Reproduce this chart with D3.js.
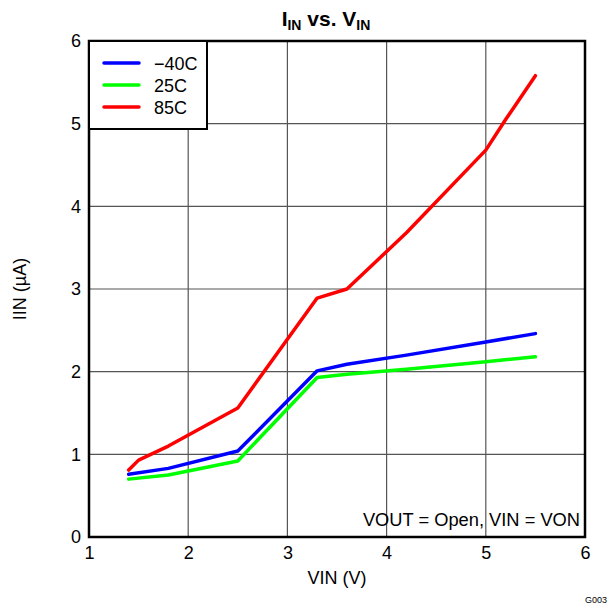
<!DOCTYPE html>
<meta charset="utf-8">
<style>
  body { margin: 0; background: #fff; }
  text { font-family: "Liberation Sans", Arial, sans-serif; }
</style>
<body>
<div id="chart"></div>
<script src="https://d3js.org/d3.v7.min.js"></script>
<script>

// Data
var vinM40 = [1.4, 1.8, 2.5, 3.3, 3.6, 4.2, 5.0, 5.5];
var iinM40 = [0.76, 0.83, 1.04, 2.01, 2.09, 2.20, 2.36, 2.46];
var vin25 = [1.4, 1.8, 2.5, 3.3, 3.6, 4.2, 5.0, 5.5];
var iin25 = [0.70, 0.75, 0.92, 1.93, 1.97, 2.03, 2.12, 2.18];
var vin85 = [1.4, 1.5, 1.8, 2.5, 3.3, 3.6, 4.2, 5.0, 5.2, 5.5];
var iin85 = [0.81, 0.93, 1.10, 1.56, 2.89, 3.00, 3.68, 4.68, 5.05, 5.58];
var seriesNames = ["\u221240C", "25C", "85C"];
var seriesColors = ["#0000ff", "#00ff00", "#ff0000"];
var xTicks = [1, 2, 3, 4, 5, 6];
var yTicks = [0, 1, 2, 3, 4, 5, 6];

var margin = {top: 41, right: 24, bottom: 71, left: 89},
    width = 609 - margin.left - margin.right,
    height = 496;

var svg = d3.select("#chart").append("svg")
    .attr("width", 609)
    .attr("height", 608);

var g = svg.append("g")
    .attr("transform", "translate(" + margin.left + "," + margin.top + ")");

var x = d3.scaleLinear().domain([1, 6]).range([0, width]);
var y = d3.scaleLinear().domain([0, 6]).range([height, 0]);

// grid
g.selectAll(".vgrid")
  .data(xTicks.slice(1, -1))
  .enter().append("line")
    .attr("x1", function(d) { return x(d); })
    .attr("x2", function(d) { return x(d); })
    .attr("y1", 0).attr("y2", height)
    .attr("stroke", "#555").attr("stroke-width", 1.2);

g.selectAll(".hgrid")
  .data(yTicks.slice(1, -1))
  .enter().append("line")
    .attr("y1", function(d) { return y(d); })
    .attr("y2", function(d) { return y(d); })
    .attr("x1", 0).attr("x2", width)
    .attr("stroke", "#555").attr("stroke-width", 1.2);

// axes labels (no tick lines)
var xAxis = g.append("g")
    .attr("transform", "translate(0," + height + ")")
    .call(d3.axisBottom(x).tickValues(xTicks).tickSize(0).tickPadding(9).tickFormat(d3.format("d")));
var yAxis = g.append("g")
    .call(d3.axisLeft(y).tickValues(yTicks).tickSize(0).tickPadding(8).tickFormat(d3.format("d")));
[xAxis, yAxis].forEach(function(a) {
  a.select(".domain").remove();
  a.selectAll("text").style("font-size", "18px").attr("fill", "#000")
    .style("font-family", "'Liberation Sans', Arial, sans-serif");
});

// lines
var line = d3.line()
    .x(function(d) { return x(d[0]); })
    .y(function(d) { return y(d[1]); });

var series = [
  d3.zip(vinM40, iinM40),
  d3.zip(vin25, iin25),
  d3.zip(vin85, iin85)
];

// draw green first, then blue, red on top
[1, 0, 2].forEach(function(i) {
  g.append("path")
    .datum(series[i])
    .attr("d", line)
    .attr("fill", "none")
    .attr("stroke", seriesColors[i])
    .attr("stroke-width", 3.5)
    .attr("stroke-linejoin", "round")
    .attr("stroke-linecap", "round");
});

// frame
g.append("rect")
    .attr("width", width).attr("height", height)
    .attr("fill", "none").attr("stroke", "#000").attr("stroke-width", 2.5);

// legend
var legend = g.append("g");
legend.append("rect")
    .attr("x", 0).attr("y", 0).attr("width", 118).attr("height", 88)
    .attr("fill", "#fff").attr("stroke", "#000").attr("stroke-width", 2);
seriesNames.forEach(function(name, i) {
  legend.append("line")
    .attr("x1", 15).attr("x2", 50)
    .attr("y1", 22 + i * 22).attr("y2", 22 + i * 22)
    .attr("stroke", seriesColors[i]).attr("stroke-width", 3.5)
    .attr("stroke-linecap", "round");
  legend.append("text")
    .attr("x", 65).attr("y", 22 + i * 22 + 6.5)
    .style("font-size", "18px")
    .text(name);
});

// annotation
g.append("text")
    .attr("x", width - 5).attr("y", height - 11)
    .attr("text-anchor", "end")
    .style("font-size", "18.3px")
    .text("VOUT = Open, VIN = VON");

// title
var title = svg.append("text")
    .attr("x", 326).attr("y", 26)
    .attr("text-anchor", "middle")
    .style("font-size", "21px").style("font-weight", "bold");
title.append("tspan").text("I");
title.append("tspan").attr("dy", 4).style("font-size", "14px").text("IN");
title.append("tspan").attr("dy", -4).text(" vs. V");
title.append("tspan").attr("dy", 4).style("font-size", "14px").text("IN");

// axis titles
svg.append("text")
    .attr("x", margin.left + width / 2).attr("y", 584)
    .attr("text-anchor", "middle")
    .style("font-size", "18px")
    .text("VIN (V)");

svg.append("text")
    .attr("transform", "translate(26," + (margin.top + height / 2) + ") rotate(-90)")
    .attr("text-anchor", "middle")
    .style("font-size", "18px")
    .text("IIN (\u00b5A)");

svg.append("text")
    .attr("x", 607).attr("y", 603)
    .attr("text-anchor", "end")
    .style("font-size", "9px")
    .text("G003");

</script>
</body>
